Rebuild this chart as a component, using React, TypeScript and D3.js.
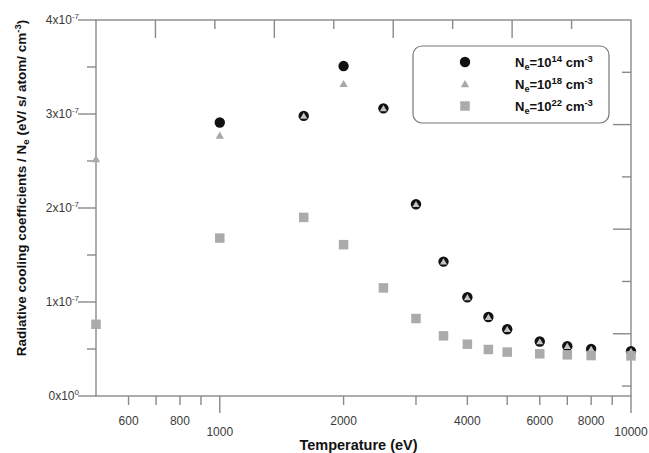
import React from "react";
import * as d3 from "d3";

const temps = [500, 1000, 1600, 2000, 2500, 3000, 3500, 4000, 4500, 5000, 6000, 7000, 8000, 10000];
const ne14: (number | null)[] = [null, 2.91, 2.98, 3.51, 3.06, 2.04, 1.43, 1.05, 0.84, 0.71, 0.58, 0.53, 0.5, 0.477];
const ne18: (number | null)[] = [2.52, 2.77, 2.98, 3.32, 3.06, 2.04, 1.43, 1.05, 0.84, 0.71, 0.58, 0.53, 0.5, 0.477];
const ne22: (number | null)[] = [0.763, 1.68, 1.9, 1.61, 1.15, 0.824, 0.64, 0.551, 0.495, 0.467, 0.449, 0.438, 0.43, 0.427];

const yMajor = [0, 1, 2, 3, 4];
const yMinor = [0.5, 1.5, 2.5, 3.5];
const yLabels = [
  { base: "0x10", exp: "0" },
  { base: "1x10", exp: "-7" },
  { base: "2x10", exp: "-7" },
  { base: "3x10", exp: "-7" },
  { base: "4x10", exp: "-7" },
];
const xMinor = [600, 700, 800, 900, 2000, 3000, 4000, 5000, 6000, 7000, 8000, 9000];
const xMajor = [1000, 10000];
const xLabels = [600, 800, 1000, 2000, 4000, 6000, 8000, 10000];
const legendExps = ["14", "18", "22"];

const W = 649;
const H = 453;
const M = { left: 96, right: 631, top: 20, bottom: 396 };

const AXIS = "#8a8a8a";
const TXT = "#3a3a3a";
const FONT = "'Liberation Sans', Arial, sans-serif";

export default function App() {
  const x = d3.scaleLog().domain([500, 10000]).range([M.left, M.right]);
  const y = d3.scaleLinear().domain([0, 4]).range([M.bottom, M.top]);
  const topScale = d3.scaleLinear().domain([0, 9]).range([M.left, M.right]);
  const rightScale = d3.scaleLinear().domain([0, 7.19]).range([M.top, M.bottom]);
  const triangle = d3.symbol().type(d3.symbolTriangle).size(30)();
  const triSmall = d3.symbol().type(d3.symbolTriangle).size(22)();
  const square = d3.symbol().type(d3.symbolSquare).size(90)();

  const pts = (vals: (number | null)[]) =>
    temps.map((t, i) => ({ t, v: vals[i] })).filter((d) => d.v !== null) as { t: number; v: number }[];

  return (
    <svg width={W} height={H} style={{ position: "absolute", left: 0, top: 0, background: "#fff" }} fontFamily={FONT}>
      <rect x={0} y={0} width={W} height={H} fill="#fff" />
      {/* frame */}
      <rect x={M.left} y={M.top} width={M.right - M.left} height={M.bottom - M.top} fill="none" stroke={AXIS} strokeWidth={1.4} />

      {/* y ticks */}
      {yMajor.map((v) => (
        <line key={"ym" + v} x1={M.left - 18} x2={M.left} y1={y(v)} y2={y(v)} stroke={AXIS} strokeWidth={1.4} />
      ))}
      {yMinor.map((v) => (
        <line key={"yn" + v} x1={M.left - 9} x2={M.left} y1={y(v)} y2={y(v)} stroke={AXIS} strokeWidth={1.4} />
      ))}
      {yLabels.map((l, i) => (
        <text key={"yl" + i} x={M.left - 17} y={y(yMajor[i]) + 4} textAnchor="end" fontSize={12} fill={TXT}>
          {l.base}
          <tspan fontSize={8} dy={-5}>{l.exp}</tspan>
        </text>
      ))}

      {/* x ticks */}
      {xMinor.map((v) => (
        <line key={"xn" + v} x1={x(v)} x2={x(v)} y1={M.bottom} y2={M.bottom + 9} stroke={AXIS} strokeWidth={1.4} />
      ))}
      {xMajor.map((v) => (
        <line key={"xm" + v} x1={x(v)} x2={x(v)} y1={M.bottom} y2={M.bottom + 17} stroke={AXIS} strokeWidth={1.4} />
      ))}
      {xLabels.map((v) => (
        <text
          key={"xl" + v}
          x={x(v)}
          y={(xMajor.includes(v) ? 436 : 425)}
          textAnchor="middle"
          fontSize={12}
          fill={TXT}
        >
          {v}
        </text>
      ))}

      {/* top ticks */}
      {d3.range(1, 9).map((k) => (
        <line
          key={"tt" + k}
          x1={topScale(k)}
          x2={topScale(k)}
          y1={M.top}
          y2={M.top + (k % 2 === 1 ? 18 : 9)}
          stroke={AXIS}
          strokeWidth={1.4}
        />
      ))}
      {/* right ticks */}
      {d3.range(1, 8).map((k) => (
        <line
          key={"rt" + k}
          x1={M.right - (k % 2 === 0 ? 18 : 9)}
          x2={M.right}
          y1={rightScale(k)}
          y2={rightScale(k)}
          stroke={AXIS}
          strokeWidth={1.4}
        />
      ))}

      {/* data */}
      {pts(ne14).map((d, i) => (
        <circle key={"c" + i} cx={x(d.t)} cy={y(d.v)} r={5.2} fill="#111" />
      ))}
      {pts(ne18).map((d, i) => {
        const inCircle = ne14[temps.indexOf(d.t)] !== null && Math.abs((ne14[temps.indexOf(d.t)] as number) - d.v) < 0.05;
        return (
          <path
            key={"t" + i}
            d={inCircle ? triSmall : triangle}
            transform={`translate(${x(d.t)},${y(d.v) + 0.8})`}
            fill={inCircle ? "#c4c4c4" : "#a8a8a8"}
          />
        );
      })}
      {pts(ne22).map((d, i) => (
        <path key={"s" + i} d={square} transform={`translate(${x(d.t)},${y(d.v)})`} fill="#ababab" />
      ))}

      {/* legend */}
      <rect x={413} y={46} width={196} height={77} rx={9} ry={9} fill="#fff" stroke="#777" strokeWidth={1.2} />
      {legendExps.map((e, i) => {
        const cy = 62 + i * 22;
        return (
          <g key={"lg" + i}>
            {i === 0 && <circle cx={465} cy={cy} r={5.2} fill="#111" />}
            {i === 1 && <path d={triangle} transform={`translate(465,${cy + 0.8})`} fill="#a8a8a8" />}
            {i === 2 && <path d={square} transform={`translate(465,${cy})`} fill="#ababab" />}
            <text x={515} y={cy + 4.5} fontSize={13} fontWeight="bold" fill="#111">
              N<tspan fontSize={9} dy={3}>e</tspan>
              <tspan dy={-3}>=10</tspan>
              <tspan fontSize={9.5} dy={-5}>{e}</tspan>
              <tspan dy={5}> cm</tspan>
              <tspan fontSize={9.5} dy={-5}>-3</tspan>
            </text>
          </g>
        );
      })}

      {/* axis titles */}
      <text x={(M.left + M.right) / 2 - 5} y={450} textAnchor="middle" fontSize={14.5} fontWeight="bold" fill="#111">
        Temperature (eV)
      </text>
      <text
        transform={`translate(26,${188}) rotate(-90)`}
        textAnchor="middle"
        fontSize={13.5}
        fontWeight="bold"
        fill="#111"
      >
        Radiative cooling coefficients / N
        <tspan fontSize={9.5} dy={3}>e</tspan>
        <tspan dy={-3}> (eV/ s/ atom/ cm</tspan>
        <tspan fontSize={9.5} dy={-5}>-3</tspan>
        <tspan dy={5}>)</tspan>
      </text>
    </svg>
  );
}
